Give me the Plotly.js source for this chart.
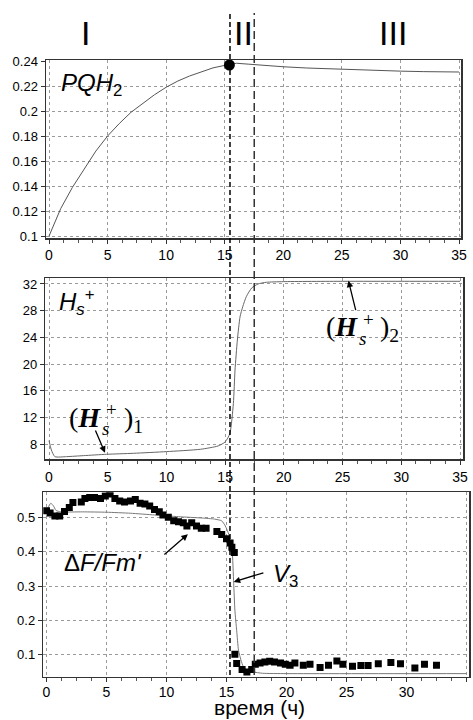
<!DOCTYPE html>
<html>
<head>
<meta charset="utf-8">
<script src="https://cdn.plot.ly/plotly-3.0.1.min.js"></script>
<style>html,body{margin:0;padding:0;background:#fff;}#chart{width:473px;height:720px;}</style>
</head>
<body>
<div id="chart"></div>
<script>
// ---- data ----
var pqhX = [0, 1, 2, 3, 4, 5, 6, 7, 8, 9, 10, 11, 12, 13, 14, 15, 15.4, 16, 17, 18, 20, 22, 25, 28, 30, 32, 35];
var pqhY = [0.100, 0.122, 0.139, 0.154, 0.168, 0.180, 0.190, 0.199, 0.206, 0.213, 0.219, 0.224, 0.228, 0.2315, 0.2345, 0.2365, 0.2372, 0.2382, 0.2375, 0.2366, 0.2354, 0.2344, 0.2333, 0.2324, 0.2319, 0.2315, 0.2312];
var peakX = [15.4];
var peakY = [0.2368];

var hsX = [0, 0.2, 0.5, 1.5, 2.95, 4.9, 7.2, 10.0, 12.9, 14.4, 15.0, 15.4, 15.7, 15.84, 16.04, 16.27, 16.5, 16.8, 17.26, 17.8, 18.5, 19.95, 25, 30, 35];
var hsY = [8.55, 7.15, 6.15, 6.15, 6.3, 6.5, 6.65, 6.9, 7.25, 7.75, 8.35, 9.6, 14.1, 19.1, 23.6, 27.1, 28.6, 30.1, 31.4, 32.0, 32.25, 32.35, 32.4, 32.4, 32.4];

var modelX = [0, 0.15, 0.35, 0.55, 0.8, 1.2, 3, 5, 7, 9, 11, 13, 14, 14.6, 14.9, 15.2, 15.35, 15.47, 15.6, 15.7, 15.85, 16.0, 16.2, 16.4, 16.7, 17.2, 18, 20, 35];
var modelY = [0.522, 0.530, 0.541, 0.535, 0.520, 0.516, 0.516, 0.515, 0.512, 0.507, 0.502, 0.498, 0.495, 0.490, 0.475, 0.450, 0.425, 0.405, 0.308, 0.230, 0.170, 0.113, 0.085, 0.065, 0.055, 0.050, 0.046, 0.045, 0.045];

var expX = [0.0, 0.3, 0.7, 1.1, 1.5, 1.9, 2.2, 2.9, 3.2, 3.6, 4.0, 4.5, 4.9, 5.3, 5.7, 6.1, 6.5, 7.0, 7.4, 7.8, 8.2, 8.6, 9.0, 9.4, 9.7, 10.15, 10.6, 11.0, 11.4, 11.7, 12.1, 12.5, 12.9, 13.3, 14.2, 14.6, 15.0, 15.3, 15.45, 15.65, 15.7, 15.85, 16.3, 16.7, 17.1, 17.4, 17.8, 18.2, 18.6, 19.0, 19.5, 19.9, 20.3, 20.7, 21.4, 21.96, 22.8, 23.5, 24.2, 24.7, 25.5, 26.2, 26.8, 27.65, 28.7, 29.5, 30.7, 31.5, 32.5];
var expY = [0.519, 0.513, 0.504, 0.504, 0.517, 0.529, 0.543, 0.545, 0.555, 0.558, 0.558, 0.555, 0.562, 0.568, 0.555, 0.548, 0.545, 0.548, 0.552, 0.541, 0.539, 0.533, 0.523, 0.516, 0.507, 0.500, 0.490, 0.487, 0.484, 0.475, 0.484, 0.475, 0.468, 0.468, 0.459, 0.450, 0.438, 0.425, 0.413, 0.398, 0.1015, 0.0744, 0.057, 0.050, 0.057, 0.072, 0.076, 0.079, 0.081, 0.079, 0.076, 0.072, 0.069, 0.076, 0.069, 0.072, 0.063, 0.069, 0.082, 0.072, 0.0665, 0.0685, 0.0685, 0.074, 0.077, 0.074, 0.0615, 0.072, 0.0695];

var xTicks = [0, 5, 10, 15, 20, 25, 30, 35];
var xTickText = ['0', '5', '10', '15', '20', '25', '30', '35'];
var y1Ticks = [0.1, 0.12, 0.14, 0.16, 0.18, 0.2, 0.22, 0.24];
var y1TickText = ['0.1', '0.12', '0.14', '0.16', '0.18', '0.2', '0.22', '0.24'];
var y2Ticks = [8, 12, 16, 20, 24, 28, 32];
var y2TickText = ['8', '12', '16', '20', '24', '28', '32'];
var y3Ticks = [0.1, 0.2, 0.3, 0.4, 0.5];
var y3TickText = ['0.1', '0.2', '0.3', '0.4', '0.5'];
var phaseX = [15.45, 17.52];
var phaseLabels = ['I', 'II', 'III'];
var xTitle = 'время (ч)';

// ---- layout helpers ----
var W = 473, H = 720;
function px(v) { return v / W; }
function py(v) { return 1 - v / H; }

var gridStyle = {showgrid: true, gridcolor: '#9a9a9a', griddash: 'dot', gridwidth: 1};
function xAxis(domain, range, anchor, standoff) {
  return Object.assign({
    domain: domain, range: range, anchor: anchor,
    tickmode: 'array', tickvals: xTicks, ticktext: xTickText,
    ticks: 'outside', ticklen: 4, tickcolor: '#333',
    ticklabelstandoff: standoff || 0,
    minor: {dtick: 1.25, tick0: 0, ticks: 'outside', ticklen: 3, tickcolor: '#555', showgrid: false},
    showline: true, linecolor: '#333', linewidth: 1.5, mirror: true,
    zeroline: false,
    tickfont: {family: 'Liberation Sans, Arial, sans-serif', size: 14, color: '#000'}
  }, gridStyle);
}
function yAxis(domain, range, anchor, tv, tt) {
  return Object.assign({
    domain: domain, range: range, anchor: anchor,
    tickmode: 'array', tickvals: tv, ticktext: tt,
    ticks: 'outside', ticklen: 4, tickcolor: '#333',
    showline: true, linecolor: '#333', linewidth: 1.5, mirror: true,
    zeroline: false,
    tickfont: {family: 'Liberation Sans, Arial, sans-serif', size: 13, color: '#000'}
  }, gridStyle);
}

var traces = [
  {x: pqhX, y: pqhY, xaxis: 'x', yaxis: 'y', mode: 'lines', line: {color: '#555', width: 1}},
  {x: peakX, y: peakY, xaxis: 'x', yaxis: 'y', mode: 'markers', marker: {color: '#000', size: 11, symbol: 'circle'}},
  {x: hsX, y: hsY, xaxis: 'x2', yaxis: 'y2', mode: 'lines', line: {color: '#666', width: 1, shape: 'spline', smoothing: 0.6}},
  {x: modelX, y: modelY, xaxis: 'x3', yaxis: 'y3', mode: 'lines', line: {color: '#777', width: 1, shape: 'spline', smoothing: 0.5}},
  {x: expX, y: expY, xaxis: 'x3', yaxis: 'y3', mode: 'markers', marker: {color: '#000', size: 7, symbol: 'square'}}
];

var labelFont = {family: 'Liberation Sans, Arial, sans-serif', color: '#000'};
function serif(size) { return {family: 'Liberation Serif, Times New Roman, serif', size: size, color: '#000'}; }
function txt(x, y, text, font) {
  return {xref: 'paper', yref: 'paper', x: px(x), y: py(y), text: text, showarrow: false, xanchor: 'left', yanchor: 'middle', font: font};
}
function arrow(xr, yr, x, y, ax, ay) {
  return {xref: xr, yref: yr, axref: xr, ayref: yr, x: x, y: y, ax: ax, ay: ay, text: '', showarrow: true, arrowhead: 2, arrowsize: 1, arrowwidth: 1.3, arrowcolor: '#000'};
}

var annotations = [
  {xref: 'paper', yref: 'paper', x: px(85), y: py(33), text: phaseLabels[0], showarrow: false, xanchor: 'center', yanchor: 'middle', font: Object.assign({size: 34}, labelFont)},
  {xref: 'paper', yref: 'paper', x: px(243), y: py(33), text: phaseLabels[1], showarrow: false, xanchor: 'center', yanchor: 'middle', font: Object.assign({size: 34}, labelFont)},
  {xref: 'paper', yref: 'paper', x: px(393), y: py(33), text: phaseLabels[2], showarrow: false, xanchor: 'center', yanchor: 'middle', font: Object.assign({size: 34}, labelFont)},
  txt(59, 84, '<i>PQH</i><sub>2</sub>', Object.assign({size: 24}, labelFont)),
  txt(57, 302, '<i>H</i><sub><i>s</i></sub><sup>+</sup>', Object.assign({size: 24}, labelFont)),
  // (H_s^+)_1 with stacked s / +
  txt(67, 417, '(<b><i>H</i></b>', serif(28)),
  txt(100, 428, '<i>s</i>', serif(19)),
  txt(104, 409, '+', serif(19)),
  txt(122, 419, ')<sub>1</sub>', serif(28)),
  // (H_s^+)_2
  txt(324, 327, '(<b><i>H</i></b>', serif(28)),
  txt(357, 338, '<i>s</i>', serif(19)),
  txt(361, 319, '+', serif(19)),
  txt(378, 329, ')<sub>2</sub>', serif(28)),
  txt(62, 562, 'Δ<i>F/Fm\'</i>', Object.assign({size: 24}, labelFont)),
  txt(271, 575, '<i>V</i><sub>3</sub>', Object.assign({size: 24}, labelFont)),
  {xref: 'paper', yref: 'paper', x: px(259), y: py(707), text: xTitle, showarrow: false, xanchor: 'center', yanchor: 'middle', font: Object.assign({size: 21}, labelFont)},
  // arrows
  arrow('x2', 'y2', 4.77, 6.74, 3.9, 10.3),
  arrow('x2', 'y2', 25.5, 32.5, 26.15, 27.85),
  arrow('x3', 'y3', 11.78, 0.451, 9.7, 0.388),
  arrow('x3', 'y3', 15.6, 0.312, 18.2, 0.34)
];

var shapes = [
  {type: 'line', xref: 'x', yref: 'paper', x0: phaseX[0], x1: phaseX[0], y0: py(675), y1: py(13), line: {color: '#000', width: 1.5, dash: '5px,3px'}},
  {type: 'line', xref: 'x', yref: 'paper', x0: phaseX[1], x1: phaseX[1], y0: py(675), y1: py(13), line: {color: '#333', width: 1.5, dash: '8px,4px'}}
];

var layout = {
  width: W, height: H,
  margin: {l: 0, r: 0, t: 0, b: 0},
  paper_bgcolor: '#fff', plot_bgcolor: '#fff',
  showlegend: false,
  hovermode: false,
  xaxis: xAxis([px(46), px(461)], [-0.256, 35.17], 'y'),
  yaxis: yAxis([py(238), py(60)], [0.0985, 0.2408], 'x', y1Ticks, y1TickText),
  xaxis2: xAxis([px(45.3), px(463.3)], [-0.315, 35.28], 'y2'),
  yaxis2: yAxis([py(459.3), py(278.3)], [5.75, 32.85], 'x2', y2Ticks, y2TickText),
  xaxis3: xAxis([px(43.3), px(469)], [-0.267, 35.21], 'y3', -2),
  yaxis3: yAxis([py(676.7), py(492.3)], [0.036, 0.573], 'x3', y3Ticks, y3TickText),
  annotations: annotations,
  shapes: shapes
};

Plotly.newPlot('chart', traces, layout, {staticPlot: true, displayModeBar: false});
</script>
</body>
</html>
